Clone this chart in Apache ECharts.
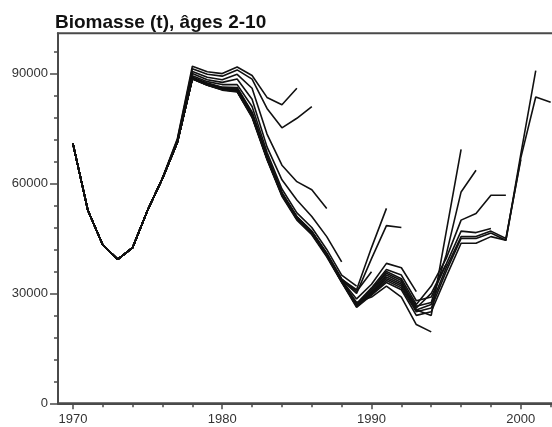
<!DOCTYPE html>
<html>
<head>
<meta charset="utf-8">
<script src="https://cdn.jsdelivr.net/npm/echarts@6/dist/echarts.min.js"></script>
<style>
html,body{margin:0;padding:0;background:#fff;}
#c{width:552px;height:427px;}
</style>
</head>
<body>
<div id="c"></div>
<script>
const titleText = "Biomasse (t), âges 2-10";
const years = [];
for (let y = 1970; y <= 2002; y++) years.push(y);
const xMajorTicks = [1970, 1980, 1990, 2000];
const xMinorTicks = [1972, 1974, 1976, 1978, 1982, 1984, 1986, 1988, 1992, 1994, 1996, 1998, 2002];
const yMajorTicks = [0, 30000, 60000, 90000];
const yMinorTicks = [6000, 12000, 18000, 24000, 36000, 42000, 48000, 54000, 66000, 72000, 78000, 84000, 96000];

// Retrospective series, each starting 1970 and ending at its terminal year
const b1985 = [70900,52700,43200,39300,42500,52700,61500,72300, 92000,90500,90000,91800,89500,83500,81500,86000];
const b1986 = [70900,52700,43200,39300,42500,52700,61500,72000, 91300,89800,89300,91000,88500,80500,75200,77800,81000];
const b1987 = [70900,52700,43200,39300,42500,52700,61400,71800, 90600,89000,88300,89800,86000,73500,65000,60500,58300,53200];
const b1988 = [70900,52700,43200,39300,42500,52700,61400,71600, 90000,88300,87600,88500,83000,70000,61000,55500,51000,45500,38600];
const b1989 = [70900,52700,43200,39300,42500,52700,61400,71500, 89400,87800,87000,87000,81000,68500,58500,52000,48000,42000,35000,32000];
const b1990 = [70900,52700,43200,39300,42500,52700,61400,71400, 89000,87400,86300,86200,79500,67500,57500,51000,47000,41000,34000,30500,35900];
const b1991 = [70900,52700,43200,39300,42500,52700,61400,71400, 88900,87300,86200,86000,79300,67300,57400,50900,46900,40900,33800,31000,42500,53200];
const b1992 = [70900,52700,43200,39300,42500,52700,61400,71300, 88900,87200,86100,85800,79100,67200,57300,50800,46800,40800,33600,30000,39500,48500,48000];
const b1993 = [70900,52700,43200,39300,42500,52700,61400,71300, 88800,87200,86000,85600,79000,67100,57200,50700,46700,40700,33500,28500,32500,38200,37000,30500];
const b1994 = [70900,52700,43200,39300,42500,52700,61400,71300, 88800,87100,85900,85500,78800,67000,57100,50600,46600,40600,33400,27500,29000,32000,29000,21500,19500];
const b1995 = [70900,52700,43200,39300,42500,52700,61400,71300, 88700,87000,85800,85400,78700,66900,57000,50500,46500,40500,33300,27200,31500,36500,35000,28000,29000,38000];
const b1996 = [70900,52700,43200,39300,42500,52700,61400,71300, 88700,87000,85800,85300,78600,66900,57000,50400,46400,40400,33200,27000,31000,35500,33500,25500,24000,46700,69300];
const b1997 = [70900,52700,43200,39300,42500,52700,61400,71300, 88600,86900,85700,85200,78400,66800,56900,50300,46300,40300,33200,26800,30500,35000,33000,26500,27500,40500,57700,63600];
const b1998 = [70900,52700,43200,39300,42500,52700,61400,71300, 88600,86900,85700,85200,78300,66800,56900,50300,46300,40300,33100,26600,30200,34500,32500,26000,30000,38000,47000,46600,47700];
const b1999 = [70900,52700,43200,39300,42500,52700,61400,71300, 88800,87100,85800,85300,78600,67200,57200,50700,46700,40600,33600,27000,31000,36000,34000,27000,32000,39500,50000,51800,56800,56800];
const b2000 = [70900,52700,43200,39300,42500,52700,61400,71300, 88700,87000,85700,85200,78400,67000,57000,50500,46500,40500,33500,26500,30000,34000,32000,25500,27000,37000,45500,45500,47000,45000,66500];
const b2001 = [70900,52700,43200,39300,42500,52700,61400,71300, 88600,86900,85600,85100,78200,66800,56800,50300,46300,40300,33300,26400,29800,33500,31500,25000,26000,36000,45000,45000,46500,44500,68000,90800];
const b2002 = [70900,52700,43200,39300,42500,52700,61400,71300, 88500,86800,85500,85000,78000,66500,56500,50000,46000,40000,33000,26200,29500,33000,31000,24000,25000,34500,43700,43700,45500,44500,67000,83600,82200];

const allSeries = [b1985,b1986,b1987,b1988,b1989,b1990,b1991,b1992,b1993,b1994,b1995,b1996,b1997,b1998,b1999,b2000,b2001,b2002];

const chart = echarts.init(document.getElementById('c'), null, {renderer: 'canvas'});
const font = "'Liberation Sans', Arial, sans-serif";
const axisColor = '#4a4a4a';
const plain = function (v) { return String(v); };
const blank = function () { return ''; };

const option = {
  animation: false,
  backgroundColor: '#fff',
  title: {
    text: titleText,
    left: 55, top: 13.5, padding: 0,
    textStyle: {fontFamily: font, fontWeight: 'bold', fontSize: 19, color: '#111'}
  },
  grid: {
    left: 58, top: 33.3, width: 507.6, height: 370,
    outerBoundsMode: 'none', containLabel: false,
    show: true, borderColor: axisColor, borderWidth: 2, backgroundColor: 'transparent'
  },
  xAxis: [
    {
      type: 'value', min: 1969, max: 2003, position: 'bottom',
      axisLine: {show: true, onZero: false, lineStyle: {color: axisColor, width: 2}},
      axisTick: {show: true, length: 6, customValues: xMajorTicks, lineStyle: {color: axisColor, width: 1.5}},
      axisLabel: {show: true, customValues: xMajorTicks, formatter: plain, margin: 10, fontFamily: font, fontSize: 13, color: '#333'},
      splitLine: {show: false}
    },
    {
      type: 'value', min: 1969, max: 2003, position: 'bottom', offset: 0,
      axisLine: {show: true, onZero: false, lineStyle: {color: 'rgba(0,0,0,0)', width: 0}},
      axisTick: {show: true, length: 4, customValues: xMinorTicks, lineStyle: {color: axisColor, width: 1.5}},
      axisLabel: {show: true, customValues: xMinorTicks, formatter: blank},
      splitLine: {show: false}
    }
  ],
  yAxis: [
    {
      type: 'value', min: 0, max: 101000, position: 'left',
      axisLine: {show: true, onZero: false, lineStyle: {color: axisColor, width: 2}},
      axisTick: {show: true, length: 8, customValues: yMajorTicks, lineStyle: {color: axisColor, width: 1.5}},
      axisLabel: {show: true, customValues: yMajorTicks, formatter: plain, margin: 10, fontFamily: font, fontSize: 13, color: '#333'},
      splitLine: {show: false}
    },
    {
      type: 'value', min: 0, max: 101000, position: 'left', offset: 0,
      axisLine: {show: true, onZero: false, lineStyle: {color: 'rgba(0,0,0,0)', width: 0}},
      axisTick: {show: true, length: 4, customValues: yMinorTicks, lineStyle: {color: axisColor, width: 1.5}},
      axisLabel: {show: true, customValues: yMinorTicks, formatter: blank},
      splitLine: {show: false}
    }
  ],
  series: allSeries.map(function (arr) {
    return {
      type: 'line',
      xAxisIndex: 0, yAxisIndex: 0,
      data: arr.map(function (v, i) { return [years[i], v]; }),
      symbol: 'none', showSymbol: false, silent: true,
      lineStyle: {color: '#111', width: 1.6},
      clip: true
    };
  })
};
chart.setOption(option);
</script>
</body>
</html>
